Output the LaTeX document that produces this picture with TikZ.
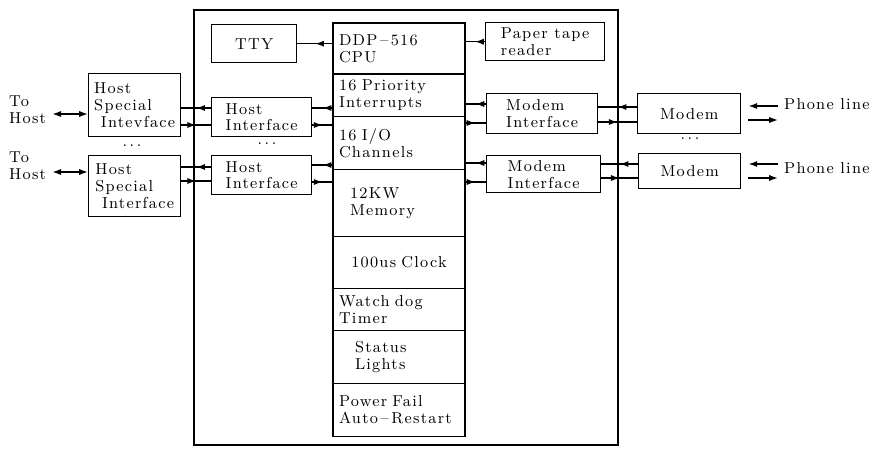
\documentclass[tikz,border=0pt]{standalone}
\usepackage{fontspec}
\setmainfont{Latin Modern Roman}[LetterSpace=8]
\usetikzlibrary{positioning,arrows.meta,decorations.markings}

\begin{document}
\begin{tikzpicture}[x=0.02cm,y=-0.02cm,
    font=\fontsize{9}{9.6}\selectfont,
    box/.style={draw,thick,anchor=north west,inner sep=2pt,align=left},
    cell/.style={draw,thick,outer sep=0pt,minimum width=2.64cm,text width=2.4cm,align=left,inner xsep=2pt},
    midarr/.style={thick,postaction={decorate},decoration={markings,
        mark=at position 0.5 with {\arrow{Latex[length=5pt,width=3.5pt]}}}},
    endarr/.style={thick,-{Latex[length=5pt,width=3.5pt]}}]
    \useasboundingbox (0,0) rectangle (881,450);
    \draw [thick] (194,10) rectangle (618,445);
    % processor column
    \node [cell,anchor=north west,minimum height=1.02cm] (cpu) at (333,23) {DDP\,--\,516\\CPU};
    \node [cell,minimum height=0.84cm,below=0pt of cpu] (prio) {16 Priority\\Interrupts};
    \node [cell,minimum height=1.06cm,below=0pt of prio] (io) {16 I/O\\Channels};
    \node [cell,minimum height=1.34cm,text width=1.96cm,below=0pt of io] (mem) {12KW\\Memory\\[5pt]};
    \node [cell,minimum height=1.04cm,align=center,below=0pt of mem] (clk) {100us Clock};
    \node [cell,minimum height=0.84cm,below=0pt of clk] (wdt) {Watch dog\\Timer};
    \node [cell,minimum height=1.06cm,text width=1.76cm,below=0pt of wdt] (stat) {Status\\Lights};
    \node [cell,minimum height=1.06cm,below=0pt of stat] (pwr) {Power Fail\\Auto\,--\,Restart};
    % boxes round it
    \node [box,minimum width=1.70cm,minimum height=0.76cm] (tty) at (211,24) {TTY};
    \node [box,minimum width=2.38cm,minimum height=0.76cm] (ptr) at (485,22) {Paper tape\\reader};
    \node [box,minimum width=2.00cm,minimum height=0.78cm] (hi1) at (211,97) {Host\\Interface};
    \node [box,minimum width=2.00cm,minimum height=0.78cm] (hi2) at (211,155) {Host\\Interface};
    \node [box,minimum width=2.22cm,minimum height=0.80cm] (mi1) at (486,93) {Modem\\Interface};
    \node [box,minimum width=2.28cm,minimum height=0.74cm] (mi2) at (486,155) {Modem\\Interface};
    \node [box,minimum width=2.06cm,minimum height=0.80cm] (mo1) at (637,93) {Modem};
    \node [box,minimum width=2.04cm,minimum height=0.70cm] (mo2) at (638,153) {Modem};
    \node [box,minimum width=1.84cm,minimum height=1.26cm] (hsi1) at (88,73) {Host\\Special\\\ Intevface};
    \node [box,minimum width=1.84cm,minimum height=1.22cm] (hsi2) at (88,155) {Host\\Special\\\ Interface};
    % outside labels
    \node [anchor=west,align=left] (th1) at (3,110) {To\\Host};
    \node [anchor=west,align=left] (th2) at (3,166) {To\\Host};
    \node [anchor=west] (ph1) at (778,104) {Phone line};
    \node [anchor=west] (ph2) at (778,168) {Phone line};
    \node (d1) at (132,146) {.\,.\,.};
    \node (d2) at (267,144) {.\,.\,.};
    \node (d3) at (690,139) {.\,.\,.};
    % host side
    \draw [thick,{Latex[length=5pt,width=3.5pt]}-{Latex[length=5pt,width=3.5pt]}] (th1.east |- 0,114) -- (hsi1.west |- 0,114);
    \draw [thick,{Latex[length=5pt,width=3.5pt]}-{Latex[length=5pt,width=3.5pt]}] (th2.east |- 0,172) -- (hsi2.west |- 0,172);
    \draw [midarr] (hi1.west |- 0,108) -- (hsi1.east |- 0,108);
    \draw [midarr] (hsi1.east |- 0,125) -- (hi1.west |- 0,125);
    \draw [midarr] (hi2.west |- 0,167) -- (hsi2.east |- 0,167);
    \draw [midarr] (hsi2.east |- 0,181) -- (hi2.west |- 0,181);
    \draw [midarr] (prio.west |- 0,108) -- (hi1.east |- 0,108);
    \draw [midarr] (hi1.east |- 0,125) -- (io.west |- 0,125);
    \draw [midarr] (io.west |- 0,165) -- (hi2.east |- 0,165);
    \draw [midarr] (hi2.east |- 0,182) -- (mem.west |- 0,182);
    \draw [midarr] (cpu.west |- tty.east) -- (tty.east);
    \draw [midarr] (ptr.west) -- (cpu.east |- ptr.west);
    % modem side
    \draw [midarr] (mi1.west |- 0,104) -- (prio.east |- 0,104);
    \draw [midarr] (io.east |- 0,123) -- (mi1.west |- 0,123);
    \draw [midarr] (mi2.west |- 0,163) -- (io.east |- 0,163);
    \draw [midarr] (mem.east |- 0,182) -- (mi2.west |- 0,182);
    \draw [midarr] (mo1.west |- 0,107) -- (mi1.east |- 0,107);
    \draw [midarr] (mi1.east |- 0,122) -- (mo1.west |- 0,122);
    \draw [midarr] (mo2.west |- 0,164) -- (mi2.east |- 0,164);
    \draw [midarr] (mi2.east |- 0,178) -- (mo2.west |- 0,178);
    \draw [endarr,shorten >=4pt] (ph1.west |- 0,106) -- (mo1.east |- 0,106);
    \draw [endarr,shorten <=4pt] (mo1.east |- 0,120) -- (ph1.west |- 0,120);
    \draw [endarr,shorten >=4pt] (ph2.west |- 0,164) -- (mo2.east |- 0,164);
    \draw [endarr,shorten <=4pt] (mo2.east |- 0,178) -- (ph2.west |- 0,178);
\end{tikzpicture}
\end{document}
